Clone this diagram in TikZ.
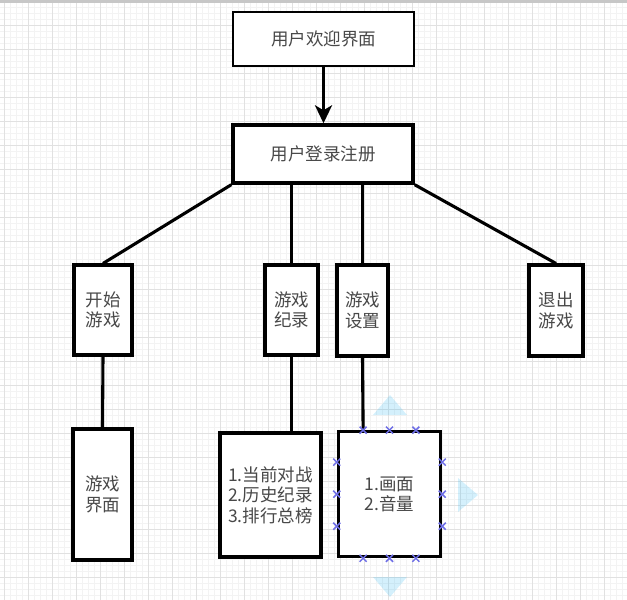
\documentclass[tikz,border=0pt]{standalone}
\usepackage{fontspec}
\newfontfamily\cjk{Noto Sans CJK SC}
\usetikzlibrary{arrows.meta, positioning, calc}
\definecolor{gridminor}{RGB}{243,243,243}
\definecolor{gridmajor}{RGB}{225,225,225}
\definecolor{hintblue}{RGB}{41,182,242}
\definecolor{markblue}{RGB}{110,110,230}
\definecolor{textgray}{RGB}{72,72,72}

\tikzset{
    selx/.pic={\draw[selmark] (-3.5,-3.5) -- (3.5,3.5) (-3.5,3.5) -- (3.5,-3.5);}
}

\begin{document}
\begin{tikzpicture}[
    x=1pt, y=-1pt,
    box/.style={rectangle, draw=black, line width=3.1pt, fill=white,
                text=textgray, align=center, inner sep=0pt,
                font=\cjk\fontsize{17.5}{20.5}\selectfont},
    link/.style={draw, line width=3.1pt},
    selmark/.style={draw=markblue, line width=1.5pt},
    hint/.style={fill=hintblue, fill opacity=0.2}
]
\useasboundingbox (0,0) rectangle (627,600);

% background grid
\foreach \gx in {4,10,...,627} \draw[gridminor, line width=0.8pt] (\gx,0) -- (\gx,600);
\foreach \gy in {1,7,...,600} \draw[gridminor, line width=0.8pt] (0,\gy) -- (627,\gy);
\foreach \gx in {4,28,...,627} \draw[gridmajor, line width=0.9pt] (\gx,0) -- (\gx,600);
\foreach \gy in {1,25,...,600} \draw[gridmajor, line width=0.9pt] (0,\gy) -- (627,\gy);
\fill[black!22] (0,0) rectangle (627,2.5);

% boxes
\node[box, minimum width=181pt, minimum height=54pt, line width=2pt] (welcome) at (323.5,39) {用户欢迎界面};
\node[box, minimum width=180pt, minimum height=58pt, line width=3.4pt] (login) at (323,154) {用户登录注册};

\node[box, minimum width=58pt, minimum height=90pt] (start) at (103,310) {开始\\游戏};
\node[box, minimum width=53pt, minimum height=90pt] (record) at (291.5,310) {游戏\\纪录};
\node[box, minimum width=51pt, minimum height=91pt] (setting) at (362.5,310.5) {游戏\\设置};
\node[box, minimum width=54pt, minimum height=91pt] (quit) at (556,310.5) {退出\\游戏};

\node[box, minimum width=59pt, minimum height=131pt] (gameui) at (102.5,494.5) {游戏\\界面};
\node[box, minimum width=101pt, minimum height=124pt] (recordlist) at (270.5,495) {1.当前对战\\2.历史纪录\\3.排行总榜};
\node[box, minimum width=102.4pt, minimum height=125pt] (settinglist) at (389.5,494.2) {1.画面\\2.音量};

% connectors
\draw[link, -{Stealth[length=18pt, width=17pt, inset=5pt]}] (welcome.south) -- (welcome.south |- login.north);
\draw[link] (login.south west) -- (start.north);
\draw[link] (record.north) -- (record.north |- login.south);
\draw[link] (setting.north) -- (setting.north |- login.south);
\draw[link] (login.south east) -- (quit.north);
\draw[link] (start.south) -- (gameui.north);
\draw[link] (record.south) -- (record.south |- recordlist.north);
\draw[link] (setting.south) -- ($(settinglist.north west)!0.25!(settinglist.north east)$);

% selection handles
\fill[hint] (390,395) -- (407,415) -- (373,415) -- cycle;
\fill[hint] (458,478) -- (478,495) -- (458,512) -- cycle;
\fill[hint] (373,577) -- (407,577) -- (390,597) -- cycle;
\foreach \t in {0.25,0.5,0.75} {
    \pic at ($(settinglist.north west)!\t!(settinglist.north east)$) {selx};
    \pic at ($(settinglist.south west)!\t!(settinglist.south east)$) {selx};
    \pic at ($(settinglist.north west)!\t!(settinglist.south west)$) {selx};
    \pic at ($(settinglist.north east)!\t!(settinglist.south east)$) {selx};
}
\end{tikzpicture}
\end{document}
